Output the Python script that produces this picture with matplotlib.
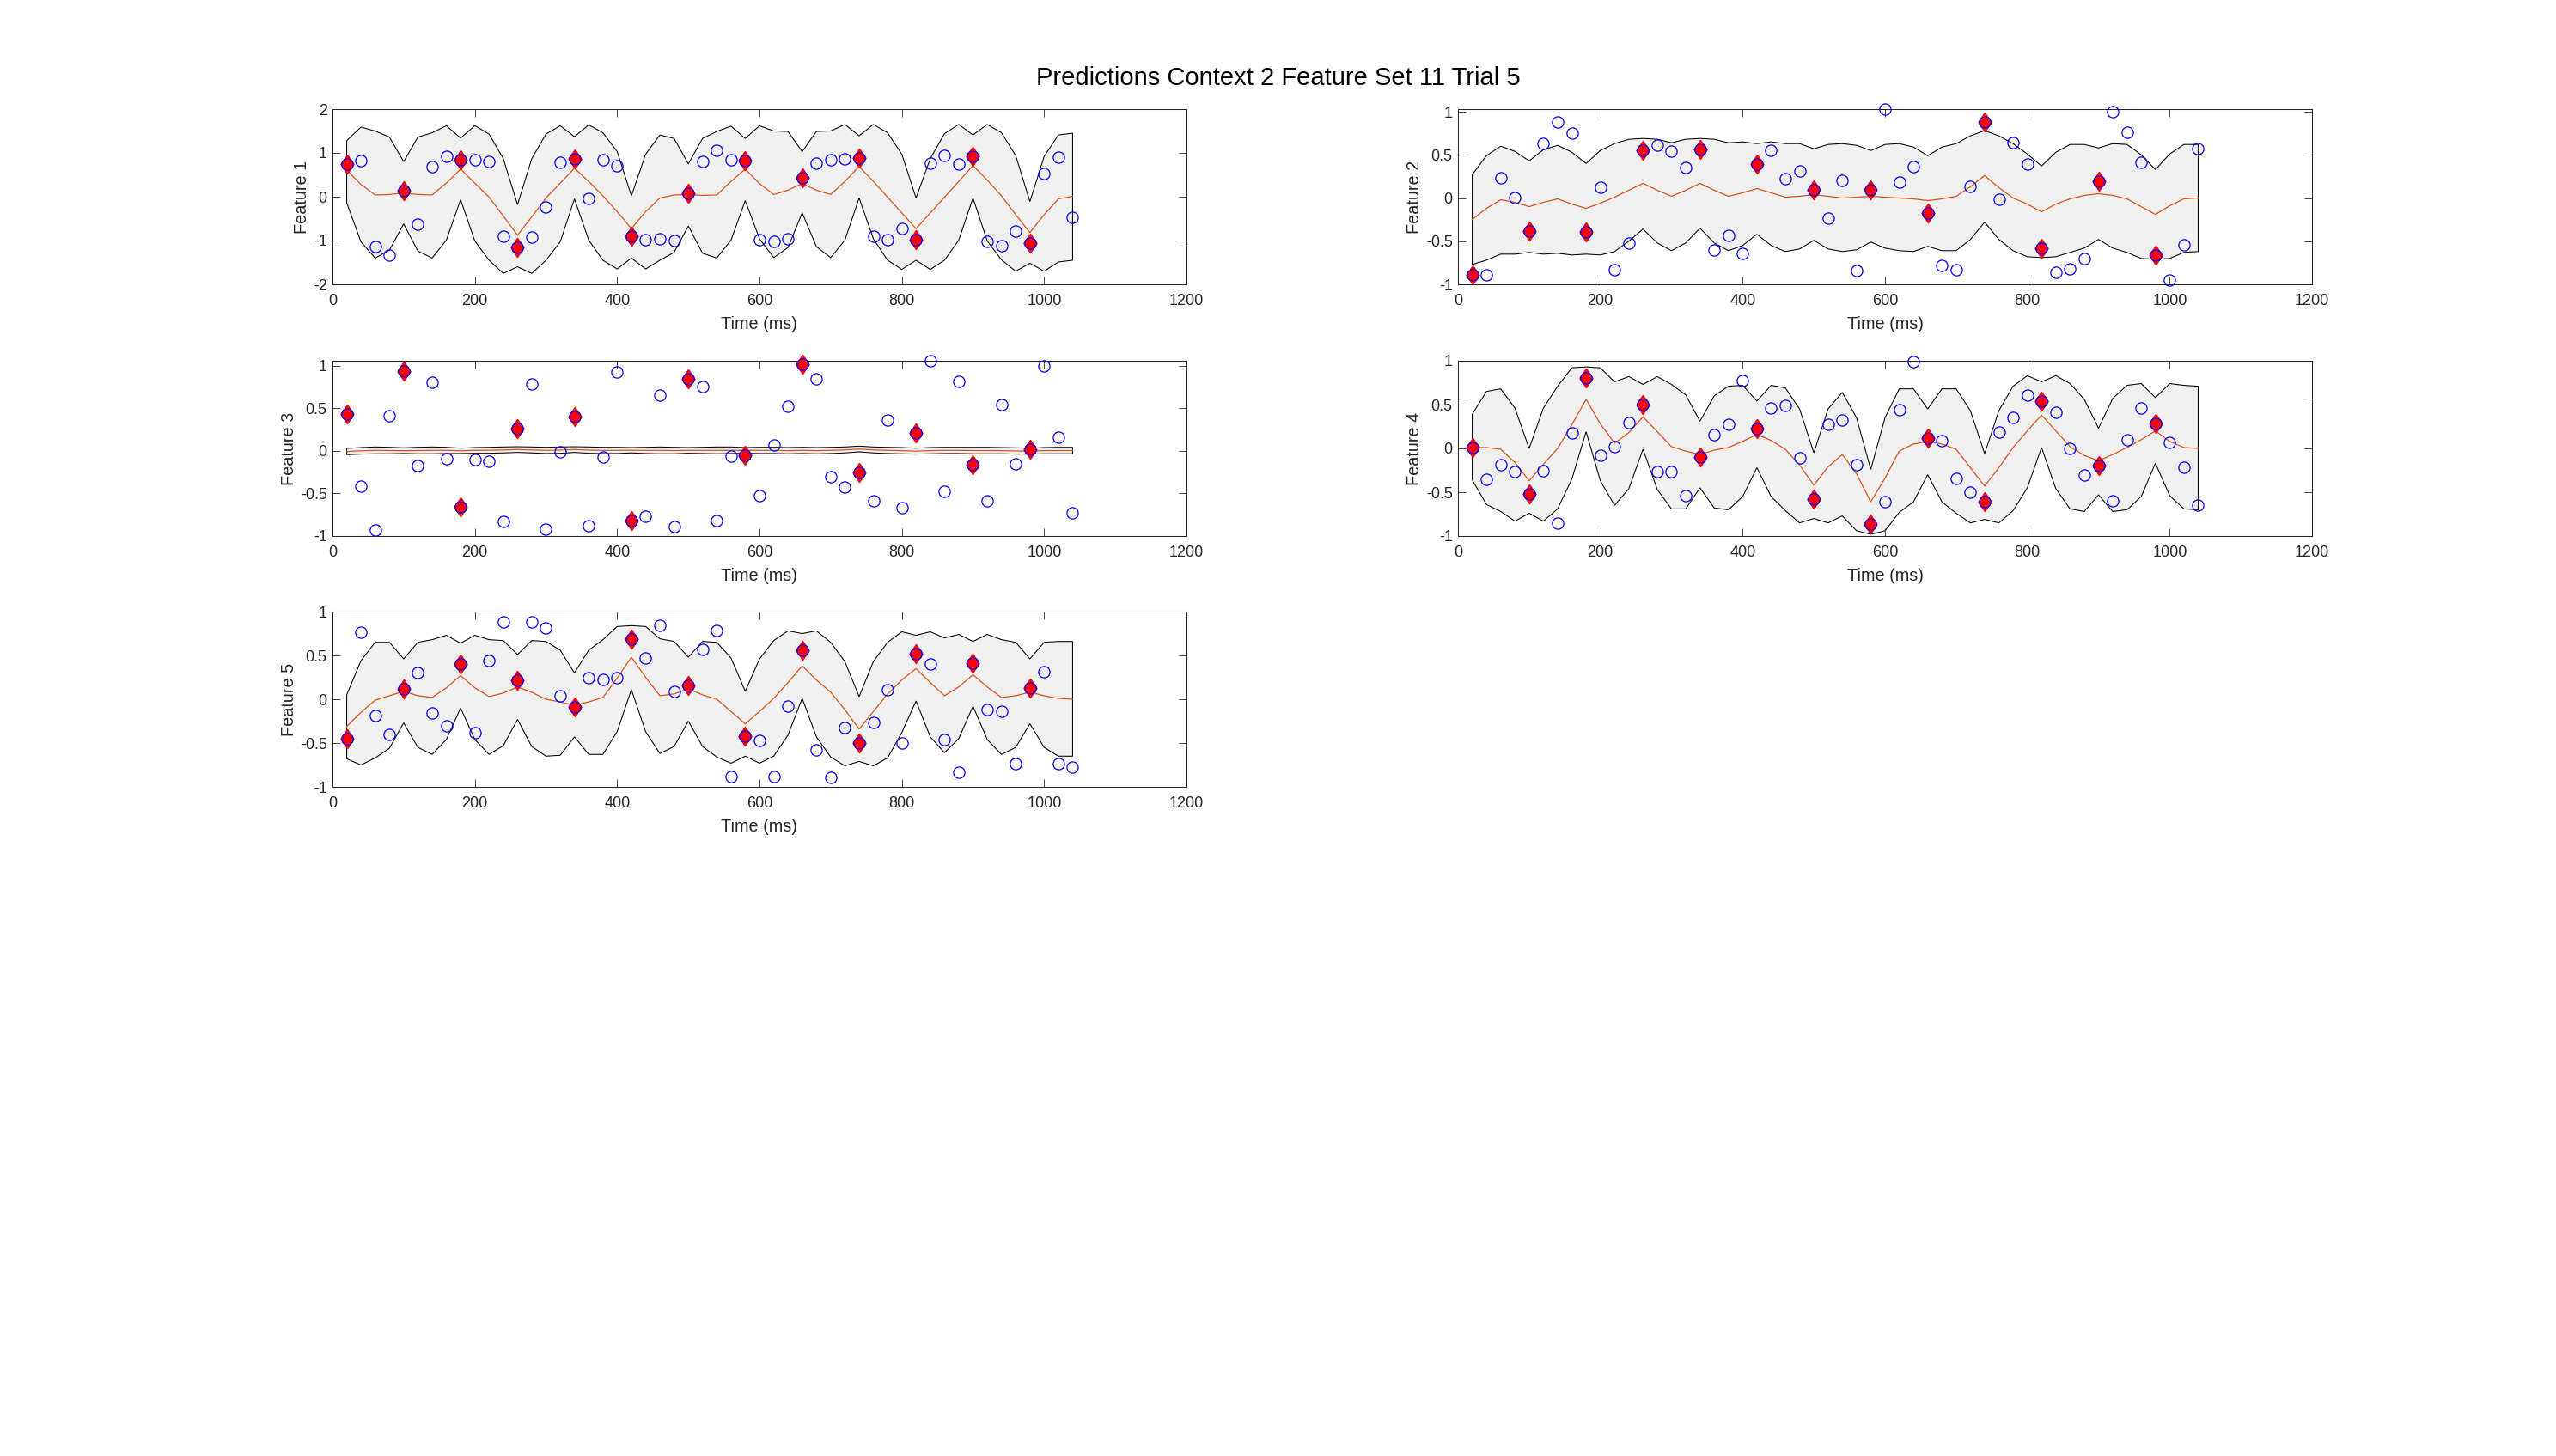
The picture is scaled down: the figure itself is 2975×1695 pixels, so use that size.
import numpy as np
import matplotlib
matplotlib.use("Agg")
import matplotlib.pyplot as plt
from matplotlib.ticker import FuncFormatter

plt.rcParams['font.family'] = ['Liberation Sans', 'DejaVu Sans']
plt.rcParams['axes.unicode_minus'] = False

title = 'Predictions Context 2 Feature Set 11 Trial 5'
times = np.arange(20, 1041, 20)   # ms, 52 samples
feature_names = ['Feature 1', 'Feature 2', 'Feature 3', 'Feature 4', 'Feature 5']

# upper / lower edge of the prediction band, mean prediction, observed values
upper1 = [1.28, 1.59, 1.50, 1.36, 0.80, 1.36, 1.46, 1.62, 1.34, 1.62,
          1.43, 0.87, -0.18, 0.87, 1.43, 1.62, 1.37, 1.64, 1.46, 1.03,
          0.02, 0.97, 1.41, 1.33, 0.75, 1.33, 1.49, 1.61, 1.33, 1.62,
          1.50, 1.49, 1.03, 1.49, 1.50, 1.65, 1.39, 1.65, 1.46, 0.97,
          -0.03, 0.87, 1.44, 1.65, 1.41, 1.65, 1.46, 0.94, -0.11, 0.92,
          1.41, 1.45]
lower1 = [-0.14, -1.03, -1.40, -1.22, -0.62, -1.24, -1.40, -0.99, -0.07, -1.01,
          -1.45, -1.75, -1.60, -1.75, -1.45, -1.03, -0.05, -0.99, -1.45, -1.65,
          -1.40, -1.65, -1.45, -1.27, -0.67, -1.29, -1.40, -0.99, -0.09, -0.96,
          -1.39, -1.16, -0.37, -1.14, -1.39, -0.99, -0.03, -0.96, -1.45, -1.66,
          -1.45, -1.66, -1.45, -0.99, -0.03, -1.01, -1.44, -1.70, -1.52, -1.70,
          -1.49, -1.45]
mean1 = [0.61, 0.28, 0.04, 0.05, 0.09, 0.05, 0.04, 0.31, 0.63, 0.31,
         -0.01, -0.44, -0.88, -0.46, -0.03, 0.31, 0.65, 0.35, 0.02, -0.34,
         -0.73, -0.34, -0.03, 0.04, 0.05, 0.03, 0.04, 0.35, 0.63, 0.30,
         0.05, 0.15, 0.30, 0.15, 0.05, 0.35, 0.69, 0.35, -0.01, -0.37,
         -0.73, -0.37, -0.01, 0.35, 0.71, 0.38, 0.02, -0.41, -0.82, -0.41,
         -0.05, 0.01]
obs1 = [0.75, 0.82, -1.14, -1.34, 0.13, -0.63, 0.69, 0.92, 0.84, 0.84,
        0.81, -0.90, -1.16, -0.93, -0.23, 0.79, 0.86, -0.04, 0.84, 0.70,
        -0.90, -0.98, -0.97, -1.00, 0.07, 0.80, 1.05, 0.84, 0.82, -0.99,
        -1.01, -0.97, 0.43, 0.77, 0.85, 0.86, 0.89, -0.90, -0.99, -0.73,
        -0.98, 0.77, 0.95, 0.75, 0.92, -1.01, -1.11, -0.79, -1.06, 0.52,
        0.90, -0.47]

upper2 = [0.27, 0.49, 0.60, 0.54, 0.43, 0.56, 0.61, 0.53, 0.40, 0.55,
          0.63, 0.68, 0.69, 0.68, 0.64, 0.68, 0.69, 0.68, 0.64, 0.65,
          0.63, 0.65, 0.63, 0.63, 0.57, 0.62, 0.63, 0.61, 0.55, 0.62,
          0.63, 0.59, 0.49, 0.59, 0.63, 0.72, 0.78, 0.72, 0.63, 0.51,
          0.37, 0.53, 0.62, 0.62, 0.58, 0.63, 0.62, 0.50, 0.33, 0.51,
          0.62, 0.62]
lower2 = [-0.77, -0.72, -0.65, -0.65, -0.63, -0.65, -0.64, -0.66, -0.65, -0.66,
          -0.62, -0.50, -0.36, -0.52, -0.61, -0.52, -0.35, -0.52, -0.61, -0.55,
          -0.42, -0.55, -0.62, -0.59, -0.49, -0.59, -0.62, -0.60, -0.51, -0.58,
          -0.61, -0.62, -0.56, -0.61, -0.61, -0.48, -0.28, -0.48, -0.61, -0.68,
          -0.69, -0.68, -0.63, -0.58, -0.48, -0.58, -0.63, -0.70, -0.71, -0.70,
          -0.63, -0.62]
mean2 = [-0.25, -0.12, -0.02, -0.05, -0.10, -0.05, -0.01, -0.07, -0.12, -0.06,
         0.01, 0.09, 0.17, 0.09, 0.02, 0.09, 0.17, 0.09, 0.02, 0.06,
         0.11, 0.06, 0.01, 0.02, 0.04, 0.02, 0.00, 0.01, 0.02, 0.01,
         0.00, -0.01, -0.03, -0.01, 0.02, 0.13, 0.26, 0.12, 0.00, -0.07,
         -0.16, -0.07, -0.01, 0.03, 0.05, 0.03, -0.01, -0.10, -0.19, -0.09,
         -0.01, 0.00]
obs2 = [-0.89, -0.89, 0.23, 0.01, -0.38, 0.63, 0.88, 0.75, -0.39, 0.12,
        -0.83, -0.52, 0.55, 0.61, 0.54, 0.35, 0.56, -0.60, -0.43, -0.64,
        0.39, 0.55, 0.22, 0.31, 0.09, -0.23, 0.20, -0.84, 0.09, 1.03,
        0.18, 0.36, -0.17, -0.78, -0.83, 0.13, 0.88, -0.01, 0.64, 0.39,
        -0.58, -0.86, -0.82, -0.70, 0.19, 1.00, 0.76, 0.41, -0.66, -0.95,
        -0.54, 0.57]

upper3 = [0.030, 0.040, 0.047, 0.043, 0.037, 0.043, 0.047, 0.043, 0.033, 0.040,
          0.043, 0.047, 0.050, 0.047, 0.043, 0.047, 0.050, 0.047, 0.043, 0.043,
          0.040, 0.043, 0.047, 0.043, 0.040, 0.043, 0.047, 0.047, 0.040, 0.043,
          0.043, 0.040, 0.043, 0.040, 0.043, 0.047, 0.057, 0.047, 0.043, 0.040,
          0.033, 0.040, 0.043, 0.043, 0.043, 0.043, 0.040, 0.037, 0.033, 0.040,
          0.043, 0.043]
lower3 = [-0.043, -0.037, -0.033, -0.033, -0.030, -0.033, -0.033, -0.030, -0.030, -0.027,
          -0.027, -0.023, -0.017, -0.023, -0.030, -0.027, -0.017, -0.027, -0.030, -0.030,
          -0.023, -0.030, -0.033, -0.033, -0.027, -0.030, -0.033, -0.030, -0.027, -0.030,
          -0.030, -0.033, -0.030, -0.033, -0.030, -0.023, -0.010, -0.023, -0.030, -0.033,
          -0.037, -0.033, -0.030, -0.030, -0.033, -0.033, -0.033, -0.037, -0.037, -0.033,
          -0.033, -0.033]
mean3 = [-0.007, 0.002, 0.007, 0.005, 0.003, 0.005, 0.007, 0.007, 0.002, 0.007,
         0.008, 0.012, 0.017, 0.012, 0.007, 0.010, 0.017, 0.010, 0.007, 0.007,
         0.008, 0.007, 0.007, 0.005, 0.007, 0.007, 0.007, 0.008, 0.007, 0.007,
         0.007, 0.004, 0.007, 0.004, 0.007, 0.012, 0.023, 0.012, 0.007, 0.004,
         -0.002, 0.004, 0.007, 0.007, 0.005, 0.005, 0.004, 0.000, -0.002, 0.004,
         0.005, 0.005]
obs3 = [0.43, -0.41, -0.93, 0.41, 0.94, -0.17, 0.81, -0.09, -0.66, -0.10,
        -0.12, -0.83, 0.26, 0.79, -0.92, -0.01, 0.40, -0.88, -0.07, 0.93,
        -0.82, -0.77, 0.66, -0.89, 0.85, 0.76, -0.82, -0.06, -0.05, -0.53,
        0.07, 0.52, 1.02, 0.85, -0.30, -0.42, -0.25, -0.59, 0.36, -0.67,
        0.21, 1.06, -0.47, 0.82, -0.16, -0.59, 0.54, -0.15, 0.02, 1.00,
        0.16, -0.73]

upper4 = [0.39, 0.65, 0.68, 0.46, 0.00, 0.46, 0.71, 0.92, 0.93, 0.92,
          0.76, 0.82, 0.73, 0.82, 0.73, 0.61, 0.31, 0.60, 0.71, 0.72,
          0.54, 0.72, 0.69, 0.45, -0.05, 0.45, 0.64, 0.35, -0.24, 0.35,
          0.68, 0.68, 0.45, 0.68, 0.68, 0.43, -0.06, 0.43, 0.71, 0.83,
          0.76, 0.83, 0.74, 0.56, 0.23, 0.57, 0.72, 0.74, 0.58, 0.74,
          0.72, 0.71]
lower4 = [-0.36, -0.64, -0.72, -0.83, -0.74, -0.83, -0.69, -0.35, 0.19, -0.37,
          -0.65, -0.46, -0.01, -0.47, -0.69, -0.69, -0.45, -0.68, -0.70, -0.55,
          -0.22, -0.55, -0.71, -0.85, -0.80, -0.85, -0.77, -0.94, -0.98, -0.94,
          -0.73, -0.61, -0.30, -0.61, -0.74, -0.85, -0.81, -0.85, -0.71, -0.45,
          0.01, -0.46, -0.69, -0.72, -0.53, -0.72, -0.70, -0.55, -0.17, -0.54,
          -0.69, -0.70]
mean4 = [0.01, 0.01, -0.01, -0.16, -0.37, -0.18, 0.00, 0.27, 0.56, 0.28,
         0.06, 0.18, 0.36, 0.19, 0.02, -0.03, -0.07, -0.02, 0.01, 0.08,
         0.16, 0.09, -0.01, -0.19, -0.42, -0.21, -0.07, -0.29, -0.61, -0.34,
         -0.03, 0.05, 0.08, 0.05, -0.01, -0.22, -0.43, -0.22, 0.01, 0.20,
         0.38, 0.20, 0.02, -0.08, -0.14, -0.07, 0.01, 0.10, 0.20, 0.08,
         0.01, 0.00]
obs4 = [0.01, -0.35, -0.19, -0.26, -0.52, -0.25, -0.85, 0.18, 0.80, -0.08,
        0.02, 0.29, 0.50, -0.26, -0.26, -0.54, -0.10, 0.16, 0.27, 0.77,
        0.23, 0.46, 0.49, -0.11, -0.58, 0.27, 0.32, -0.19, -0.86, -0.61,
        0.44, 0.99, 0.12, 0.09, -0.34, -0.50, -0.61, 0.19, 0.35, 0.61,
        0.54, 0.41, 0.00, -0.30, -0.20, -0.60, 0.10, 0.46, 0.28, 0.07,
        -0.22, -0.65]

upper5 = [0.05, 0.44, 0.65, 0.65, 0.46, 0.65, 0.68, 0.73, 0.64, 0.73,
          0.68, 0.67, 0.51, 0.67, 0.66, 0.56, 0.30, 0.56, 0.68, 0.83,
          0.84, 0.83, 0.69, 0.66, 0.48, 0.66, 0.65, 0.47, 0.09, 0.46,
          0.67, 0.78, 0.75, 0.78, 0.65, 0.43, 0.03, 0.43, 0.65, 0.77,
          0.73, 0.77, 0.70, 0.74, 0.66, 0.74, 0.68, 0.65, 0.46, 0.65,
          0.66, 0.66]
lower5 = [-0.68, -0.75, -0.67, -0.56, -0.27, -0.55, -0.63, -0.46, -0.10, -0.46,
          -0.63, -0.53, -0.23, -0.54, -0.65, -0.64, -0.43, -0.63, -0.63, -0.37,
          0.11, -0.37, -0.62, -0.54, -0.25, -0.54, -0.66, -0.73, -0.65, -0.73,
          -0.65, -0.41, 0.01, -0.43, -0.66, -0.76, -0.71, -0.76, -0.67, -0.38,
          -0.02, -0.43, -0.61, -0.45, -0.08, -0.46, -0.63, -0.55, -0.28, -0.55,
          -0.65, -0.65]
mean5 = [-0.31, -0.15, -0.01, 0.04, 0.09, 0.04, 0.02, 0.13, 0.27, 0.13,
         0.03, 0.07, 0.14, 0.08, 0.00, -0.03, -0.07, -0.03, 0.02, 0.24,
         0.48, 0.25, 0.04, 0.06, 0.12, 0.05, 0.00, -0.14, -0.28, -0.14,
         0.01, 0.19, 0.38, 0.22, 0.08, -0.12, -0.34, -0.14, 0.06, 0.22,
         0.35, 0.19, 0.04, 0.14, 0.28, 0.14, 0.02, 0.04, 0.08, 0.04,
         0.01, 0.00]
obs5 = [-0.45, 0.76, -0.19, -0.40, 0.12, 0.30, -0.16, -0.30, 0.40, -0.38,
        0.44, 0.88, 0.22, 0.88, 0.81, 0.04, -0.09, 0.25, 0.23, 0.25,
        0.69, 0.47, 0.84, 0.09, 0.16, 0.57, 0.78, -0.88, -0.42, -0.47,
        -0.88, -0.08, 0.56, -0.58, -0.89, -0.32, -0.50, -0.26, 0.11, -0.50,
        0.52, 0.40, -0.46, -0.83, 0.41, -0.12, -0.14, -0.74, 0.13, 0.31,
        -0.74, -0.77]

uppers = [upper1, upper2, upper3, upper4, upper5]
lowers = [lower1, lower2, lower3, lower4, lower5]
means = [mean1, mean2, mean3, mean4, mean5]
observed = [obs1, obs2, obs3, obs4, obs5]
ylims = [(-2, 2), (-1, 1.03), (-1, 1.06), (-1, 1), (-1, 1)]
yticks = [[-2, -1, 0, 1, 2]] + [[-1, -0.5, 0, 0.5, 1]] * 4
xticks = [0, 200, 400, 600, 800, 1000, 1200]

# axes rectangles in figure pixels (left, top, right, bottom)
W, H = 2975, 1695
boxes = [(387, 127, 1381, 331), (1697, 127, 2691, 331),
         (387, 420, 1381, 624), (1697, 420, 2691, 624),
         (387, 712, 1381, 916)]

# matlab-style diamond: a bit wider than matplotlib's thin diamond
diamond = [(0, 1), (0.68, 0), (0, -1), (-0.68, 0), (0, 1)]

fig = plt.figure(figsize=(W / 100, H / 100), dpi=100)
fig.text(0.5, 1 - 91 / H, title, ha='center', va='center', fontsize=21)

axis_gray = '0.15'
fmt = FuncFormatter(lambda v, p: '%g' % v)

for i in range(5):
    l, t, r, b = boxes[i]
    ax = fig.add_axes([l / W, 1 - b / H, (r - l) / W, (b - t) / H])
    up = np.array(uppers[i])
    lo = np.array(lowers[i])
    obs = np.array(observed[i])

    ax.fill(np.concatenate([times, times[::-1]]), np.concatenate([up, lo[::-1]]),
            facecolor='#f0f0f0', edgecolor='k', linewidth=0.75, zorder=1)
    ax.plot(times, means[i], color=(0.85, 0.325, 0.098), linewidth=0.9, zorder=2)
    ax.plot(times, obs, 'o', mfc='none', mec='b', ms=9.5, mew=0.9, clip_on=False, zorder=3)
    ax.plot(times[::4], obs[::4], marker=diamond, ls='none', color='r', ms=16,
            clip_on=False, zorder=4)
    ax.plot(times[::4], obs[::4], 'o', mfc='r', mec='b', ms=9.5, mew=0.9, clip_on=False, zorder=5)

    ax.set_xlim(0, 1200)
    ax.set_ylim(*ylims[i])
    ax.set_xticks(xticks)
    ax.set_yticks(yticks[i])
    ax.yaxis.set_major_formatter(fmt)
    ax.tick_params(direction='in', top=True, right=True, length=6.8, width=0.6,
                   labelsize=13, color=axis_gray, labelcolor=axis_gray)
    ax.tick_params(axis='x', pad=8)
    ax.tick_params(axis='y', pad=4.5)
    for s in ax.spines.values():
        s.set_color(axis_gray)
        s.set_linewidth(0.75)
    ax.set_xlabel('Time (ms)', fontsize=14.3, color=axis_gray, labelpad=6.5)
    ax.set_ylabel(feature_names[i], fontsize=14.3, color=axis_gray, labelpad=3)

fig.savefig('out.png', dpi=100)
plt.close(fig)
